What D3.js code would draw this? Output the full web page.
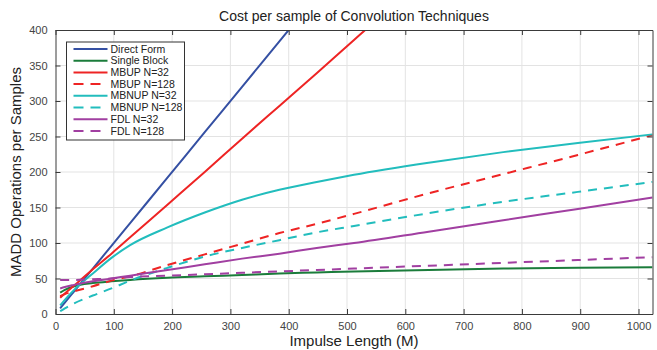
<!DOCTYPE html>
<html>
<head>
<meta charset="utf-8">
<script src="https://cdn.jsdelivr.net/npm/d3@7"></script>
<style>
  body { margin: 0; background: #fff; }
  #chart { width: 657px; height: 350px; }
  text { font-family: Helvetica, Arial, "Liberation Sans", sans-serif; }
</style>
</head>
<body>
<div id="chart"></div>
<script>
// Impulse lengths (M) where the curves were read
const impulseLengths = [8, 16, 32, 64, 96, 128, 192, 256, 320, 384, 448, 512, 640, 768, 896, 1024];

// MADD operations per sample, one array per technique
const directForm   = [8, 16, 32, 64, 96, 128, 192, 256, 320, 384, 448, 512, 640, 768, 896, 1024];
const singleBlock  = [30, 34, 39, 43.5, 46, 48, 51, 53, 55, 57, 58.5, 60, 62, 64, 65, 66];
const mbup32       = [23, 29, 40, 63, 85, 108, 154, 200, 247, 293, 339, 386, 478, 570, 662, 754];
const mbup128      = [25, 28, 32, 39, 47, 53, 69, 84, 99, 114, 127, 141, 170, 197, 224, 252];
const mbnup32      = [12, 20, 34, 57, 79, 97, 122, 143, 161, 175, 186, 196, 213, 228, 241, 253];
const mbnup128     = [4, 8, 15, 26, 36, 47, 65, 81, 93, 104, 115, 124, 142, 158, 172, 186];
const fdl32        = [36, 38, 41, 46, 50, 54, 62, 70, 78, 85, 93, 100, 116, 132, 148, 164];
const fdl128       = [48, 48, 48, 49, 50, 52, 54, 56, 58, 60, 62, 64, 68, 72, 76, 80];

const seriesNames = ['Direct Form', 'Single Block', 'MBUP N=32', 'MBUP N=128',
                     'MBNUP N=32', 'MBNUP N=128', 'FDL N=32', 'FDL N=128'];

const xTicks = [0, 100, 200, 300, 400, 500, 600, 700, 800, 900, 1000];
const yTicks = [0, 50, 100, 150, 200, 250, 300, 350, 400];

function drawChart(selector) {
    const series = [
        { name: seriesNames[0], values: directForm,  color: '#3550a3', dashed: false },
        { name: seriesNames[1], values: singleBlock, color: '#1b7c3b', dashed: false },
        { name: seriesNames[2], values: mbup32,      color: '#ee2424', dashed: false },
        { name: seriesNames[3], values: mbup128,     color: '#ee2424', dashed: true },
        { name: seriesNames[4], values: mbnup32,     color: '#22bdbd', dashed: false },
        { name: seriesNames[5], values: mbnup128,    color: '#22bdbd', dashed: true },
        { name: seriesNames[6], values: fdl32,       color: '#a13fa1', dashed: false },
        { name: seriesNames[7], values: fdl128,      color: '#a13fa1', dashed: true }
    ];

    const containerWidth = 657;
    const containerHeight = 350;
    const margin = { top: 30, right: 4.5, bottom: 36, left: 55.5 };
    const width = containerWidth - margin.left - margin.right;
    const height = containerHeight - margin.top - margin.bottom;

    const svg = d3.select(selector).append('svg')
        .attr('width', containerWidth)
        .attr('height', containerHeight)
        .append('g')
        .attr('transform', `translate(${margin.left},${margin.top})`);

    const x = d3.scaleLinear().domain([0, 1024]).range([0, width]);
    const y = d3.scaleLinear().domain([0, 400]).range([height, 0]);

    // Grid
    svg.append('g')
        .selectAll('line.vgrid')
        .data(xTicks.filter(t => t > 0))
        .enter().append('line')
        .attr('x1', d => x(d)).attr('x2', d => x(d))
        .attr('y1', 0).attr('y2', height)
        .style('stroke', '#e3e3e3').style('stroke-width', 1);

    svg.append('g')
        .selectAll('line.hgrid')
        .data(yTicks.filter(t => t > 0 && t < 400))
        .enter().append('line')
        .attr('x1', 0).attr('x2', width)
        .attr('y1', d => y(d)).attr('y2', d => y(d))
        .style('stroke', '#e3e3e3').style('stroke-width', 1);

    // Lines, clipped to the plot box
    svg.append('defs').append('clipPath')
        .attr('id', 'plot-clip')
        .append('rect')
        .attr('width', width)
        .attr('height', height);

    const line = d3.line()
        .x((d, i) => x(impulseLengths[i]))
        .y(d => y(d))
        .curve(d3.curveMonotoneX);

    svg.append('g')
        .attr('clip-path', 'url(#plot-clip)')
        .selectAll('path')
        .data(series)
        .enter().append('path')
        .attr('d', d => line(d.values))
        .style('fill', 'none')
        .style('stroke', d => d.color)
        .style('stroke-width', 2)
        .style('stroke-dasharray', d => d.dashed ? '9,7' : null);

    // Axes (ticks inside, box on all sides)
    const axisColor = '#3a3a3a';
    const xAxis = svg.append('g')
        .attr('transform', `translate(0,${height})`)
        .call(d3.axisBottom(x).tickValues(xTicks).tickFormat(d3.format('d'))
            .tickSizeInner(-5).tickSizeOuter(0).tickPadding(8));
    const yAxis = svg.append('g')
        .call(d3.axisLeft(y).tickValues(yTicks).tickFormat(d3.format('d'))
            .tickSizeInner(-5).tickSizeOuter(0).tickPadding(8));
    const xTop = svg.append('g')
        .call(d3.axisTop(x).tickValues(xTicks).tickSizeInner(-5).tickSizeOuter(0).tickFormat(''));
    const yRight = svg.append('g')
        .attr('transform', `translate(${width},0)`)
        .call(d3.axisRight(y).tickValues(yTicks).tickSizeInner(-5).tickSizeOuter(0).tickFormat(''));

    [xAxis, yAxis, xTop, yRight].forEach(a => {
        a.selectAll('path').style('stroke', axisColor);
        a.selectAll('line').style('stroke', axisColor);
        a.selectAll('text')
            .style('fill', '#444')
            .style('font-size', '11px')
            .style('font-family', 'Helvetica, Arial, "Liberation Sans", sans-serif');
    });

    // Title and axis labels
    svg.append('text')
        .attr('x', width / 2)
        .attr('y', -9)
        .style('text-anchor', 'middle')
        .style('font-size', '14px')
        .style('fill', '#222')
        .text('Cost per sample of Convolution Techniques');

    svg.append('text')
        .attr('x', width / 2)
        .attr('y', height + 32)
        .style('text-anchor', 'middle')
        .style('font-size', '15px')
        .style('fill', '#222')
        .text('Impulse Length (M)');

    svg.append('text')
        .attr('transform', 'rotate(-90)')
        .attr('x', -height / 2)
        .attr('y', -35)
        .style('text-anchor', 'middle')
        .style('font-size', '15px')
        .style('fill', '#222')
        .text('MADD Operations per Samples');

    // Legend
    const legend = svg.append('g')
        .attr('transform', 'translate(11,12)');

    legend.append('rect')
        .attr('width', 118)
        .attr('height', 98)
        .style('fill', '#fff')
        .style('stroke', '#333')
        .style('stroke-width', 1);

    const rows = legend.selectAll('g.row')
        .data(series)
        .enter().append('g')
        .attr('transform', (d, i) => `translate(0,${7 + i * 11.7})`);

    rows.append('line')
        .attr('x1', 7).attr('x2', 41)
        .style('stroke', d => d.color)
        .style('stroke-width', 2)
        .style('stroke-dasharray', d => d.dashed ? '10,7' : null);

    rows.append('text')
        .attr('x', 44)
        .attr('dy', '0.35em')
        .style('font-size', '10.5px')
        .style('fill', '#222')
        .text(d => d.name);
}

drawChart('#chart');
</script>
</body>
</html>
